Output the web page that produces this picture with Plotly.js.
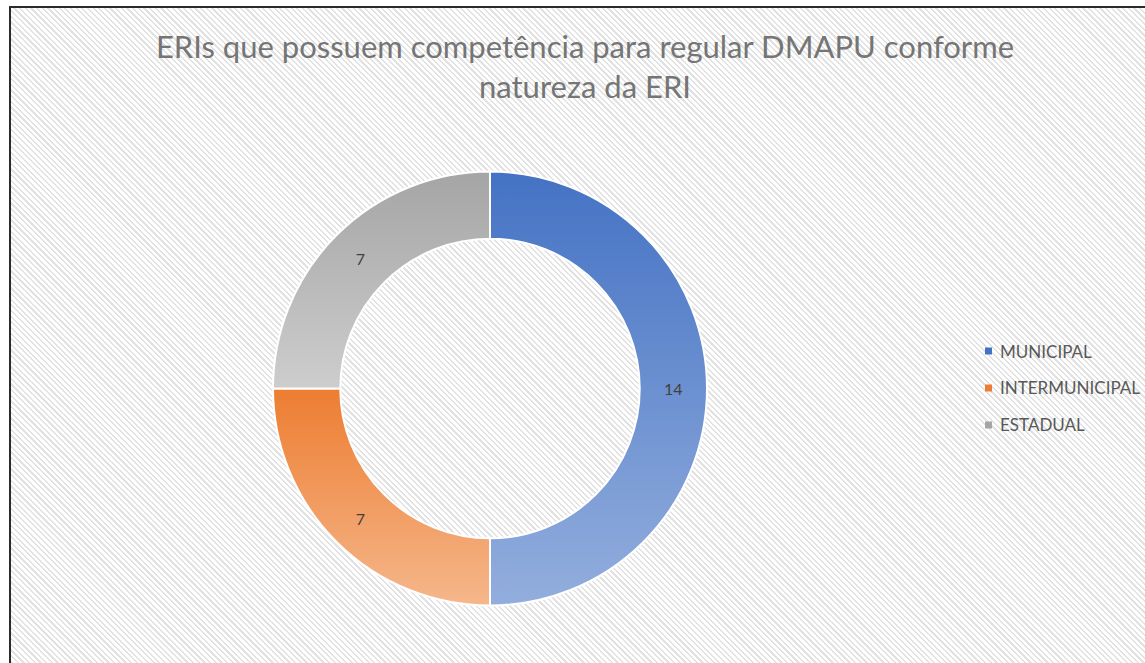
<!DOCTYPE html>
<html>
<head>
<meta charset="utf-8">
<script src="https://cdn.plot.ly/plotly-3.0.1.min.js"></script>
<style>
  html, body { margin:0; padding:0; background:#ffffff; overflow:hidden; }
  #frame {
    position:absolute; left:9px; top:6px; width:1200px; height:720px;
    border-top:2px solid #2b2b2b; border-left:2px solid #2b2b2b;
    background: repeating-linear-gradient(45deg, #ffffff 0px, #ffffff 2.4px, #e2e2e2 2.4px, #e2e2e2 4px);
  }
  #chart { position:absolute; left:0; top:0; width:1145px; height:663px; }
</style>
</head>
<body>
<div id="frame"></div>
<div id="chart"></div>
<script>
const titleText = "ERIs que possuem competência para regular DMAPU conforme<br>natureza da ERI";
const categories = ["MUNICIPAL", "INTERMUNICIPAL", "ESTADUAL"];
const values = [14, 7, 7];
const baseColors = ["#4472C4", "#ED7D31", "#A5A5A5"];
const midColors = ["#6a8fd2", "#f09a5f", "#b7b7b7"];
const lightColors = ["#93aedd", "#f5b78b", "#cdcdcd"];

const W = 1145, H = 663;
const cx = 490, cy = 388.5, R = 217;

const trace = {
  type: "pie",
  labels: categories,
  values: values,
  sort: false,
  direction: "clockwise",
  rotation: 0,
  hole: 0.69,
  textinfo: "value",
  textposition: "inside",
  insidetextorientation: "horizontal",
  textfont: { family: "Lato, 'Open Sans', sans-serif", size: 16, color: "#404040" },
  marker: { colors: midColors, line: { color: "#ffffff", width: 2 } },
  domain: { x: [(cx - R) / W, (cx + R) / W], y: [(H - cy - R) / H, (H - cy + R) / H] },
  showlegend: false,
  hoverinfo: "none"
};

// manual legend built from the category arrays
const shapes = [];
const annotations = [];
const legendY = [351, 388, 425];
categories.forEach((c, i) => {
  shapes.push({
    type: "rect", xref: "paper", yref: "paper",
    x0: 985 / W, x1: 992 / W,
    y0: (H - legendY[i] - 3.5) / H, y1: (H - legendY[i] + 3.5) / H,
    fillcolor: baseColors[i], line: { width: 0 }
  });
  annotations.push({
    xref: "paper", yref: "paper", x: 998 / W, y: (H - legendY[i]) / H,
    xanchor: "left", yanchor: "middle", text: c, showarrow: false,
    font: { family: "Lato, 'Open Sans', sans-serif", size: 17, color: "#595959" }
  });
});

const layout = {
  width: W, height: H,
  margin: { l: 0, r: 0, t: 0, b: 0 },
  paper_bgcolor: "rgba(0,0,0,0)",
  plot_bgcolor: "rgba(0,0,0,0)",
  title: {
    text: titleText,
    x: 585 / W, xanchor: "center", xref: "container",
    y: 1 - 58 / H, yanchor: "top", yref: "container",
    font: { family: "Lato, 'Open Sans', sans-serif", size: 31, color: "#757575" }
  },
  shapes: shapes,
  annotations: annotations,
  showlegend: false
};

Plotly.newPlot("chart", [trace], layout, { staticPlot: true, displayModeBar: false }).then(gd => {
  const svg = gd.querySelector("svg.main-svg");
  const ns = "http://www.w3.org/2000/svg";
  let defs = svg.querySelector("defs");
  if (!defs) { defs = document.createElementNS(ns, "defs"); svg.insertBefore(defs, svg.firstChild); }
  baseColors.forEach((c, i) => {
    const g = document.createElementNS(ns, "linearGradient");
    g.setAttribute("id", "sliceGrad" + i);
    g.setAttribute("x1", "0"); g.setAttribute("y1", "0");
    g.setAttribute("x2", "0"); g.setAttribute("y2", "1");
    const s1 = document.createElementNS(ns, "stop");
    s1.setAttribute("offset", "0"); s1.setAttribute("stop-color", c);
    const s2 = document.createElementNS(ns, "stop");
    s2.setAttribute("offset", "1"); s2.setAttribute("stop-color", lightColors[i]);
    g.appendChild(s1); g.appendChild(s2);
    defs.appendChild(g);
  });
  const slices = gd.querySelectorAll("g.slice");
  slices.forEach(sl => {
    const d = sl.__data__;
    const idx = d && d.i !== undefined ? d.i : Array.prototype.indexOf.call(slices, sl);
    const p = sl.querySelector("path.surface");
    if (p) p.style.fill = "url(#sliceGrad" + idx + ")";
  });
});
</script>
</body>
</html>
